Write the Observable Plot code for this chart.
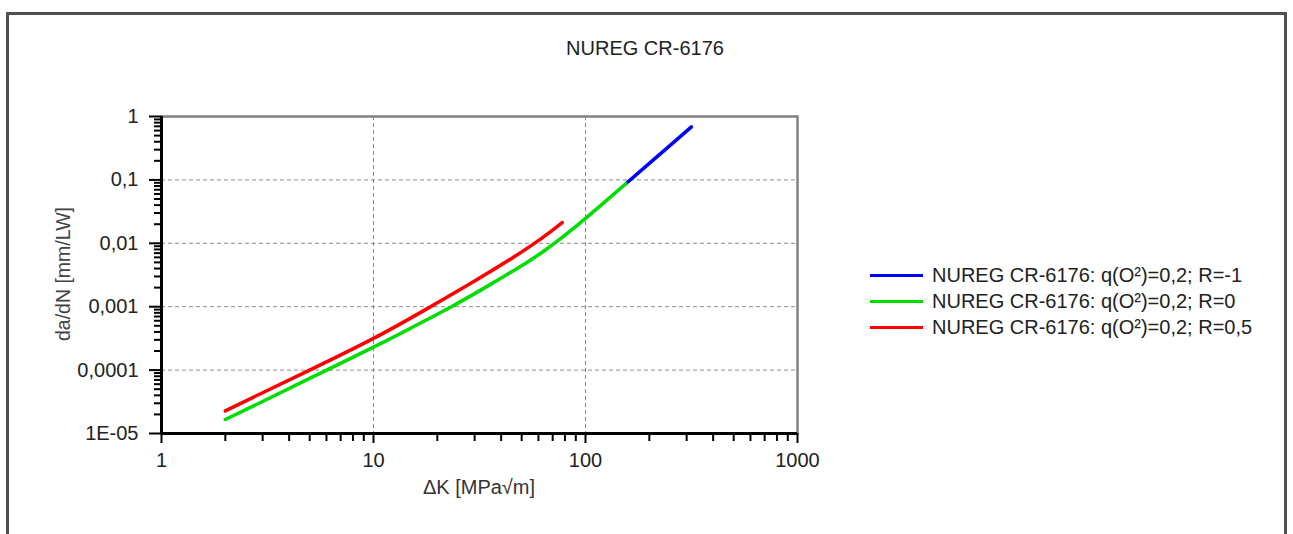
<!DOCTYPE html>
<html>
<head>
<meta charset="utf-8">
<script src="https://cdn.jsdelivr.net/npm/d3@7"></script>
<script src="https://cdn.jsdelivr.net/npm/@observablehq/plot@0.6"></script>
<style>
  html, body { margin: 0; padding: 0; background: #fff; }
  #wrap { position: relative; width: 1293px; height: 534px; overflow: hidden; font-family: "Liberation Sans", Arial, sans-serif; }
  #frame { position: absolute; left: 6px; top: 12px; width: 1275px; height: 600px; border: 3px solid #505050; pointer-events: none; }
  .txt { position: absolute; font-size: 20px; color: #222; white-space: nowrap; line-height: 1; }
  #title { left: 645px; top: 48px; transform: translate(-50%, -50%); }
  #xlabel { left: 479px; top: 487px; transform: translate(-50%, -50%); color: #333; }
  #ylabel { left: 64px; top: 274px; transform: translate(-50%, -50%) rotate(-90deg); color: #444; font-size: 19.5px; }
  .leg { position: absolute; left: 870px; width: 53px; height: 3px; }
  .legt { left: 932px; transform: translateY(-50%); }
</style>
</head>
<body>
<div id="wrap">
  <div id="chart"></div>
  <div id="frame"></div>
  <div id="title" class="txt"></div>
  <div id="xlabel" class="txt"></div>
  <div id="ylabel" class="txt"></div>
  <div id="legend"></div>
</div>
<script>
// ---- data ----
const title = "NUREG CR-6176";
const xLabel = "ΔK [MPa√m]";
const yLabel = "da/dN [mm/LW]";

const seriesNames = [
  "NUREG CR-6176: q(O²)=0,2; R=-1",
  "NUREG CR-6176: q(O²)=0,2; R=0",
  "NUREG CR-6176: q(O²)=0,2; R=0,5"
];
const seriesColors = ["#0000ff", "#00dd00", "#ff0000"];

// R=-1 (visible part above the R=0 curve)
const dK_Rm1 = [155, 200, 250, 316];
const da_Rm1 = [0.0871, 0.182, 0.348, 0.687];

// R=0
const dK_R0 = [2, 3, 5, 10, 15, 23.3, 35, 50, 62, 75.5, 87, 100, 125, 155];
const da_R0 = [1.66e-5, 3.2e-5, 7.4e-5, 2.3e-4, 4.6e-4, 1e-3, 2.17e-3, 4.43e-3, 7.1e-3, 0.0115, 0.0168, 0.0247, 0.0467, 0.0871];

// R=0,5
const dK_R05 = [2, 3, 5, 10, 18.1, 30, 45, 56.5, 67, 77.7];
const da_R05 = [2.27e-5, 4.4e-5, 1.0e-4, 3.16e-4, 9.5e-4, 2.54e-3, 5.83e-3, 9.6e-3, 0.0145, 0.0213];

const xTicks = [1, 10, 100, 1000];
const xTickLabels = ["1", "10", "100", "1000"];
const yTicks = [1, 0.1, 0.01, 0.001, 0.0001, 0.00001];
const yTickLabels = ["1", "0,1", "0,01", "0,001", "0,0001", "1E-05"];
const minorSteps = [2, 3, 4, 5, 6, 7, 8, 9];

// ---- build ----
const toRows = (xs, ys, s) => xs.map((x, i) => ({x, y: ys[i], s}));
const rowsBlue = toRows(dK_Rm1, da_Rm1, seriesNames[0]);
const rowsGreen = toRows(dK_R0, da_R0, seriesNames[1]);
const rowsRed = toRows(dK_R05, da_R05, seriesNames[2]);

const xMinor = xTicks.slice(0, -1).flatMap(d => minorSteps.map(m => d * m));
const yMinor = yTicks.slice(1).flatMap(d => minorSteps.map(m => d * m));
const xLab = new Map(xTicks.map((v, i) => [v, xTickLabels[i]]));
const yLab = new Map(yTicks.map((v, i) => [v, yTickLabels[i]]));

const W = 1293, H = 534;
const chart = Plot.plot({
  width: W,
  height: H,
  marginLeft: 161,
  marginRight: W - 797,
  marginTop: 116,
  marginBottom: H - 433,
  style: {fontFamily: "'Liberation Sans', Arial, sans-serif", fontSize: "20px", color: "#222", background: "transparent", overflow: "visible"},
  x: {type: "log", domain: [1, 1000]},
  y: {type: "log", domain: [1e-5, 1]},
  marks: [
    Plot.gridX(xTicks.slice(1, -1), {stroke: "#8a8a8a", strokeOpacity: 1, strokeDasharray: "4,3"}),
    Plot.gridY(yTicks.slice(1, -1), {stroke: "#8a8a8a", strokeOpacity: 1, strokeDasharray: "4,3"}),
    Plot.frame({stroke: "#808080", strokeWidth: 2.5}),
    Plot.line(rowsBlue, {x: "x", y: "y", stroke: seriesColors[0], strokeWidth: 3.5, curve: "natural"}),
    Plot.line(rowsGreen, {x: "x", y: "y", stroke: seriesColors[1], strokeWidth: 3.5, curve: "natural"}),
    Plot.line(rowsRed, {x: "x", y: "y", stroke: seriesColors[2], strokeWidth: 3.5, curve: "natural"}),
    Plot.axisX(xMinor, {anchor: "bottom", tickSize: 8, strokeWidth: 2, stroke: "#000", tickFormat: () => "", label: null}),
    Plot.axisX(xTicks, {anchor: "bottom", tickSize: 10, tickPadding: 9, strokeWidth: 2, stroke: "#000", tickFormat: d => xLab.get(d), label: null}),
    Plot.axisY(yMinor, {anchor: "left", tickSize: 7, strokeWidth: 2, stroke: "#000", tickFormat: () => "", label: null}),
    Plot.axisY(yTicks, {anchor: "left", tickSize: 12, tickPadding: 11, strokeWidth: 2, stroke: "#000", tickFormat: d => yLab.get(d), label: null}),
    Plot.ruleX([1], {stroke: "#000", strokeWidth: 3}),
    Plot.ruleY([1e-5], {stroke: "#000", strokeWidth: 3})
  ]
});
document.getElementById("chart").appendChild(chart);

document.getElementById("title").textContent = title;
document.getElementById("xlabel").textContent = xLabel;
document.getElementById("ylabel").textContent = yLabel;

const legend = document.getElementById("legend");
const rowY = [275, 301, 327];
seriesNames.forEach((name, i) => {
  const sw = document.createElement("div");
  sw.className = "leg";
  sw.style.top = (rowY[i] - 1.5) + "px";
  sw.style.background = seriesColors[i];
  legend.appendChild(sw);
  const t = document.createElement("div");
  t.className = "txt legt";
  t.style.top = rowY[i] + "px";
  t.textContent = name;
  legend.appendChild(t);
});
</script>
</body>
</html>
